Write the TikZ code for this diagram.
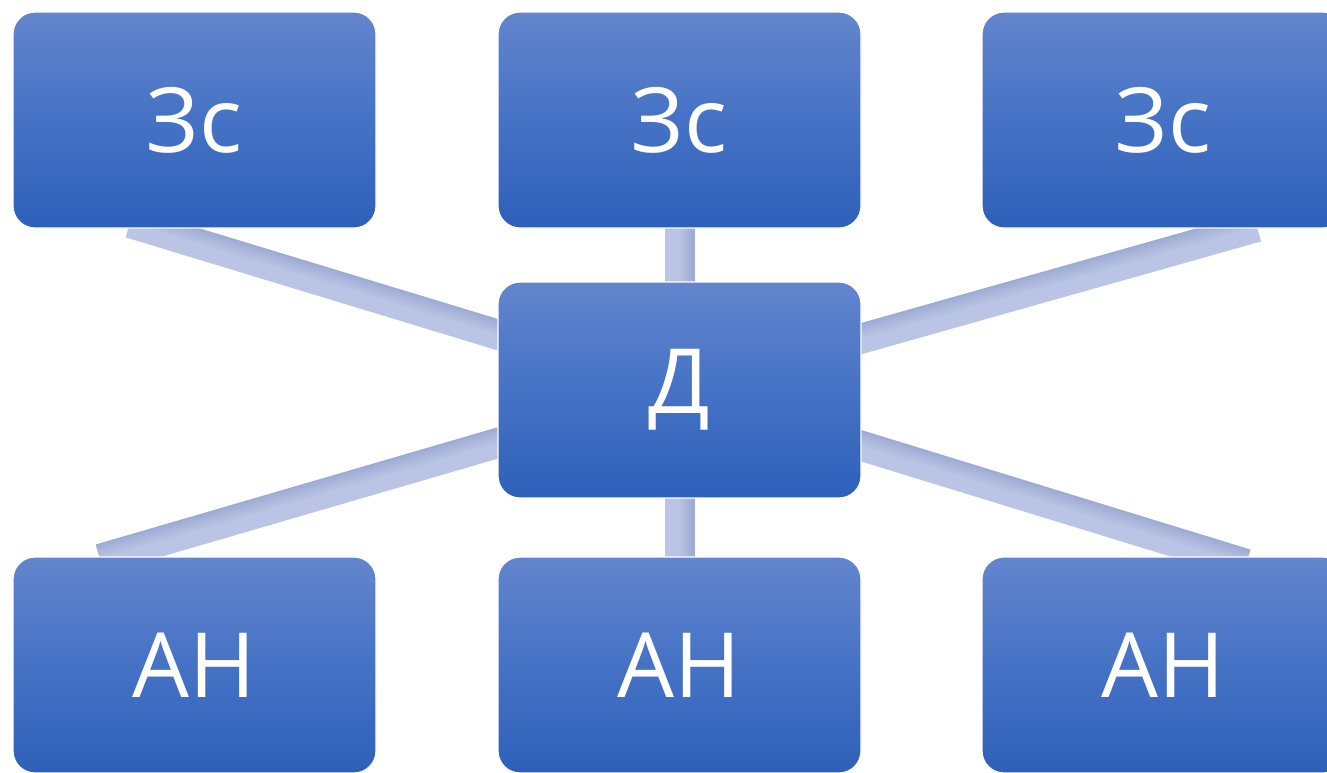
\documentclass[tikz,border=0pt]{standalone}
\usepackage{fontspec}
\setmainfont{Open Sans}
\usetikzlibrary{calc}
\definecolor{boxtop}{HTML}{6385CD}
\definecolor{boxmid}{HTML}{4572C5}
\definecolor{boxbot}{HTML}{2E60B9}
\definecolor{barlight}{HTML}{BAC4E4}
\definecolor{bardark}{HTML}{9CAAD3}
\pgfdeclarelayer{bg}
\pgfsetlayers{bg,main}
\tikzset{
  box/.style={rectangle, rounded corners=22pt, minimum width=363pt, minimum height=216pt,
    inner sep=0pt, outer sep=0pt, top color=boxtop, bottom color=boxbot, middle color=boxmid,
    draw=white, line width=1.2pt, text=white, font=\fontsize{90}{100}\selectfont},
  bar/.style={draw=barlight, line width=30pt, line cap=butt},
  barstrip/.style={line width=1.6pt, line cap=butt}
}
\begin{document}
\begin{tikzpicture}[x=1pt,y=-1pt]
\useasboundingbox (0,0) rectangle (1327,772);
\node[box] (t1) at (194.5,120) {Зс};
\node[box] (t2) at (679.5,120) {Зс};
\node[box] (t3) at (1163.5,120) {Зс};
\node[box] (d) at (679.5,390) {Д};
\node[box] (b1) at (194.5,665) {АН};
\node[box] (b2) at (679.5,665) {АН};
\node[box] (b3) at (1163.5,665) {АН};
\coordinate (e1) at (130,223);
\coordinate (e2) at (1257,227);
\coordinate (e3) at (100,559);
\coordinate (e4) at (1246,564);
\begin{pgfonlayer}{bg}
\foreach \a/\b in {e1/d.center, d.center/e2, e3/d.center, d.center/e4, t2.center/d.center, d.center/b2.center}{
  \draw[bar] (\a) -- (\b);
  \foreach \k in {0,...,9}{
    \pgfmathsetmacro{\o}{0.75+1.5*\k}
    \pgfmathsetmacro{\p}{(\k+0.5)*10}
    \draw[barstrip, draw=bardark!\p!barlight]
      ($(\a)!\o pt!90:(\b)$) -- ($(\b)!\o pt!-90:(\a)$);
  }
}
\end{pgfonlayer}
\end{tikzpicture}
\end{document}
